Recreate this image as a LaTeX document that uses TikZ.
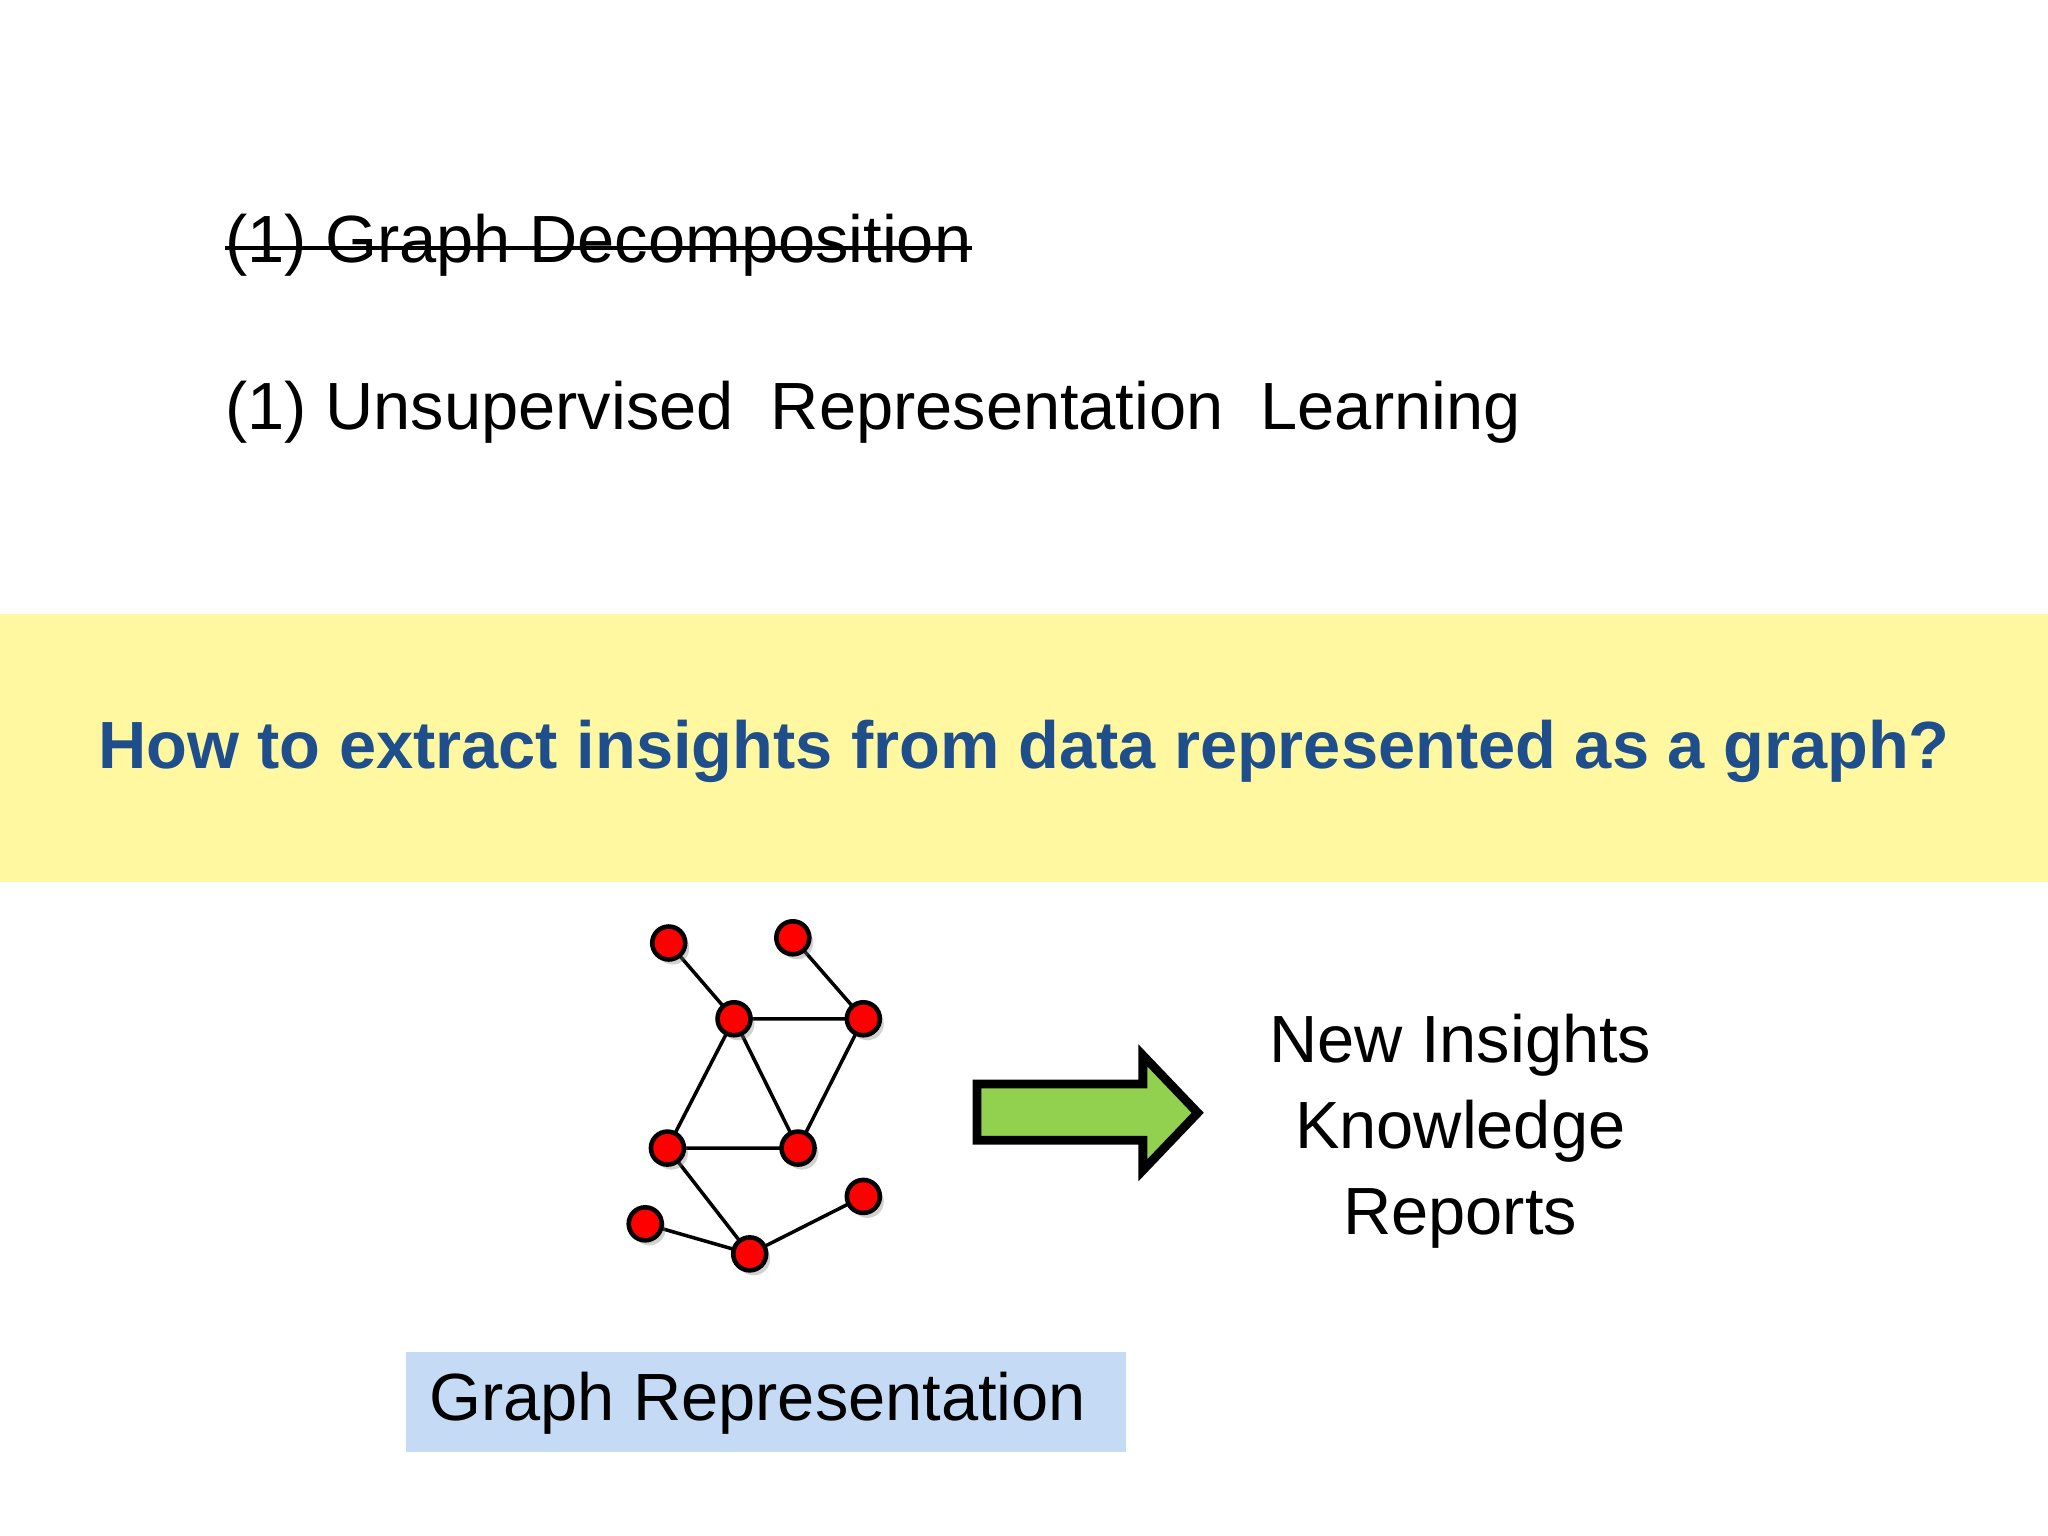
\documentclass[tikz,border=0pt]{standalone}
\usepackage{fontspec}
\setmainfont{Liberation Sans}
\usetikzlibrary{shadows,calc}
\definecolor{band}{HTML}{FFF8A0}
\definecolor{qblue}{HTML}{1F4E8C}
\definecolor{lblue}{HTML}{C5DBF5}
\definecolor{agreen}{HTML}{92D050}
\tikzset{gn/.style={circle,draw=black,line width=1.3pt,fill=red,minimum size=0.33cm,inner sep=0pt,drop shadow={shadow xshift=0.04cm,shadow yshift=-0.05cm,opacity=0.35}},
ed/.style={line width=1pt},
big/.style={font=\fontsize{19}{23}\selectfont,anchor=west,inner sep=0pt}}
\begin{document}
\begin{tikzpicture}[x=0.01306cm,y=-0.01306cm]
\useasboundingbox (0,0) rectangle (1568,1176);
\fill[white] (0,0) rectangle (1568,1176);
\fill[band] (0,470) rectangle (1568,675);
\node[big] (t1) at (172,188) {(1) Graph Decomposition};
\draw[line width=1pt] ($(t1.west)+(0,2)$) -- ($(t1.east)+(0,2)$);
\node[big] (t2) at (172,316) {(1) Unsupervised\ \ Representation\ \ Learning};
\node[font=\fontsize{19}{23}\selectfont\bfseries,text=qblue,inner sep=0pt] (q) at (784,575) {How to extract insights from data represented as a graph?};
\foreach \n/\x/\y in {a/512/722,b/607/718,c/562/780,d/661/780,e/511/879,f/611/879,g/494/937,h/574/960,i/661/916}
  \coordinate (p\n) at (\x,\y);
\draw[ed] (pa)--(pc) (pb)--(pd) (pc)--(pd) (pc)--(pe) (pc)--(pf) (pd)--(pf) (pe)--(pf) (pe)--(ph) (pg)--(ph) (ph)--(pi);
\foreach \n in {a,b,c,d,e,f,g,h,i} \node[gn] (n\n) at (p\n) {};
\draw[line width=2.5pt,fill=agreen] (748,830) -- (875,830) -- (875,808) -- (917,852) -- (875,896) -- (875,873) -- (748,873) -- cycle;
\node[font=\fontsize{19}{24.5}\selectfont,align=center,inner sep=0pt] (ins) at (1118,866) {New Insights\\Knowledge\\Reports};
\fill[lblue] (311,1035) rectangle (862,1112);
\node[big] (gr) at (328,1074) {Graph Representation};
\end{tikzpicture}
\end{document}
